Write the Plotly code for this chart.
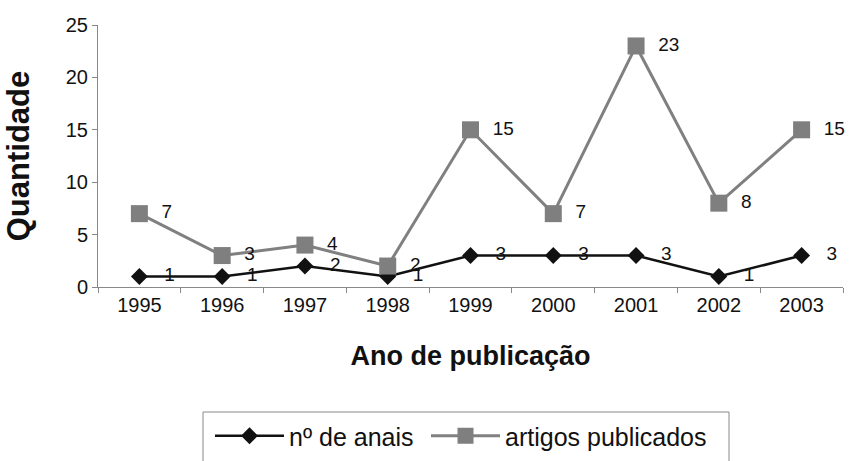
import plotly.graph_objects as go

anos = ["1995", "1996", "1997", "1998", "1999", "2000", "2001", "2002", "2003"]
anais = [1, 1, 2, 1, 3, 3, 3, 1, 3]
artigos = [7, 3, 4, 2, 15, 7, 23, 8, 15]
y_ticks = [0, 5, 10, 15, 20, 25]

FONT = "Arial, Liberation Sans, sans-serif"
W, H = 849, 461
L, R, T, B = 98, 6, 25, 174
PW, PH = W - L - R, H - T - B


def px_x(v):
    return (v - L) / PW


def px_y(v):
    return (H - B - v) / PH


fig = go.Figure()
fig.add_trace(go.Scatter(
    x=anos, y=anais, name="nº de anais", mode="lines+markers+text",
    text=["   " + str(v) for v in anais], textposition="middle right",
    textfont=dict(family=FONT, size=19, color="#111111"),
    line=dict(color="#111111", width=2.5),
    marker=dict(symbol="diamond", size=13, color="#111111"),
    cliponaxis=False, legend="legend",
))
fig.add_trace(go.Scatter(
    x=anos, y=artigos, name="artigos publicados", mode="lines+markers+text",
    text=["  " + str(v) for v in artigos], textposition="middle right",
    textfont=dict(family=FONT, size=19, color="#111111"),
    line=dict(color="#808080", width=3),
    marker=dict(symbol="square", size=17, color="#7f7f7f"),
    cliponaxis=False, legend="legend2",
))

leg_common = dict(
    orientation="h", xanchor="left",
    yref="container", y=1 - 413 / H, yanchor="top",
    bgcolor="rgba(0,0,0,0)", borderwidth=0,
    font=dict(size=25, color="#111111"),
    itemwidth=69,
)

fig.update_layout(
    width=W, height=H,
    margin=dict(l=L, r=R, t=T, b=B),
    paper_bgcolor="white", plot_bgcolor="white",
    font=dict(family=FONT, color="#111111"),
    showlegend=True,
    legend=dict(x=px_x(210), **leg_common),
    legend2=dict(x=px_x(426), **leg_common),
    shapes=[dict(
        type="rect", xref="paper", yref="paper",
        x0=px_x(203), x1=px_x(729), y0=px_y(475), y1=px_y(412),
        line=dict(color="#888888", width=1), fillcolor="rgba(0,0,0,0)",
        layer="below",
    )],
)
fig.update_xaxes(
    type="category", range=[-0.5, 8.5], automargin=False,
    showline=True, linecolor="#888888", linewidth=1,
    ticks="outside", tickson="boundaries", ticklen=5, tickcolor="#888888",
    tickfont=dict(size=20, color="#111111"),
    showgrid=False,
    title=dict(text="<b>Ano de publicação</b>", font=dict(size=27, color="#111111"), standoff=31),
)
fig.update_yaxes(
    range=[0, 25], tickvals=y_ticks, automargin=False,
    showline=True, linecolor="#888888", linewidth=1,
    ticks="outside", ticklen=5, tickcolor="#888888",
    tickfont=dict(size=20, color="#111111"),
    showgrid=False, zeroline=False,
    title=dict(text="<b>Quantidade</b>", font=dict(size=31, color="#111111"), standoff=26),
)

fig.write_html(
    "out.html",
    config={"displayModeBar": False},
    post_script="document.body.style.margin='0px';document.body.style.overflow='hidden';",
)
